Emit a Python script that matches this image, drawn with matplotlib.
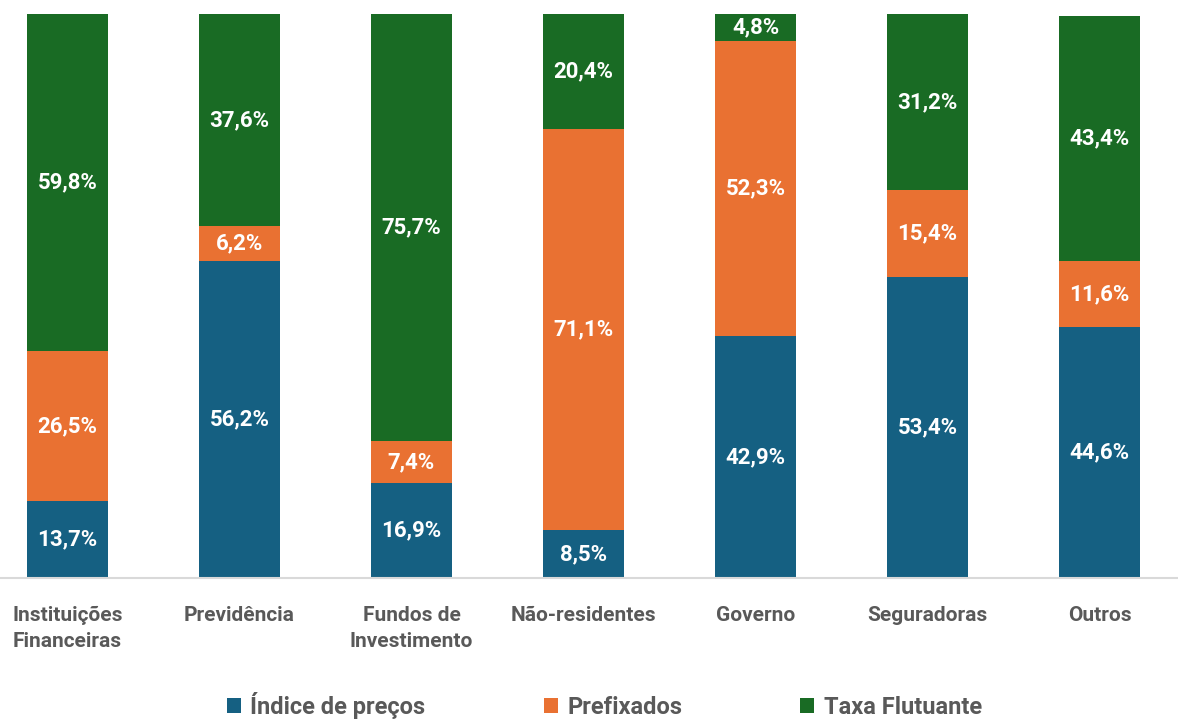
import numpy as np
import matplotlib.pyplot as plt

categories = ['Instituições\nFinanceiras', 'Previdência', 'Fundos de\nInvestimento',
              'Não-residentes', 'Governo', 'Seguradoras', 'Outros']
indice = [13.7, 56.2, 16.9, 8.5, 42.9, 53.4, 44.6]
prefixados = [26.5, 6.2, 7.4, 71.1, 52.3, 15.4, 11.6]
flutuante = [59.8, 37.6, 75.7, 20.4, 4.8, 31.2, 43.4]

series = [('Índice de preços', indice, '#156082'),
          ('Prefixados', prefixados, '#E97132'),
          ('Taxa Flutuante', flutuante, '#196B24')]

plt.rcParams['font.family'] = ['Roboto', 'DejaVu Sans']

fig = plt.figure(figsize=(11.78, 7.2), dpi=100)
ax = fig.add_axes([0, 0.197, 1, 0.7834])

x = np.arange(len(categories))
bottom = np.zeros(len(categories))
for name, vals, color in series:
    vals = np.array(vals)
    ax.bar(x, vals, 0.47, bottom=bottom, color=color, label=name)
    for xi, b, v in zip(x, bottom, vals):
        ax.text(xi, b + v / 2, f'{v:.1f}%'.replace('.', ','), ha='center', va='center',
                color='white', fontsize=16, fontweight='bold')
    bottom += vals

ax.set_xlim(-0.392, 6.456)
ax.set_ylim(0, 100)
ax.set_yticks([])
ax.set_xticks(x)
ax.set_xticklabels(categories, fontsize=15, fontweight='bold', color='#595959', linespacing=1.45)
ax.tick_params(axis='x', length=0, pad=20)
for s in ['top', 'right', 'left']:
    ax.spines[s].set_visible(False)
ax.spines['bottom'].set_color('#d9d9d9')
ax.spines['bottom'].set_linewidth(1.5)

leg = fig.legend(loc='center', bbox_to_anchor=(0.513, 0.02), ncol=3, frameon=False,
                 prop={'size': 17, 'weight': 'bold'}, handlelength=0.6, handleheight=0.6,
                 handletextpad=0.4, columnspacing=5.0)
for t in leg.get_texts():
    t.set_color('#595959')

fig.savefig('out.png', dpi=100)
